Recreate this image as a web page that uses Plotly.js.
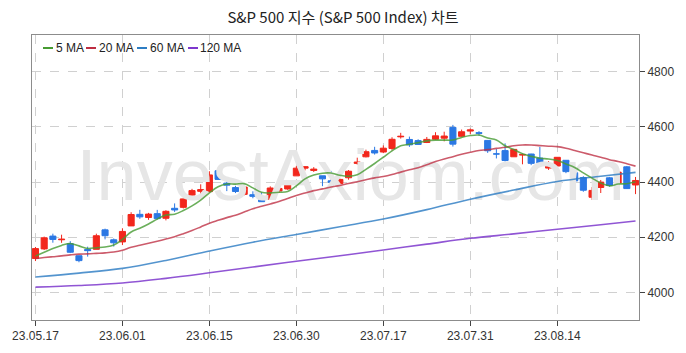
<!DOCTYPE html>
<html>
<head>
<meta charset="utf-8">
<script src="https://cdn.plot.ly/plotly-3.0.1.min.js"></script>
<style>html,body{margin:0;padding:0;background:#fff;}#chart{width:686px;height:353px;}</style>
</head>
<body>
<div id="chart"></div>
<script>
// ---- data ----
const dates = ['2023-05-17','2023-05-18','2023-05-19','2023-05-22','2023-05-23','2023-05-24','2023-05-25','2023-05-26','2023-05-30','2023-05-31',
'2023-06-01','2023-06-02','2023-06-05','2023-06-06','2023-06-07','2023-06-08','2023-06-09','2023-06-12','2023-06-13','2023-06-14',
'2023-06-15','2023-06-16','2023-06-20','2023-06-21','2023-06-22','2023-06-23','2023-06-26','2023-06-27','2023-06-28','2023-06-29',
'2023-06-30','2023-07-03','2023-07-05','2023-07-06','2023-07-07','2023-07-10','2023-07-11','2023-07-12','2023-07-13','2023-07-14',
'2023-07-17','2023-07-18','2023-07-19','2023-07-20','2023-07-21','2023-07-24','2023-07-25','2023-07-26','2023-07-27','2023-07-28',
'2023-07-31','2023-08-01','2023-08-02','2023-08-03','2023-08-04','2023-08-07','2023-08-08','2023-08-09','2023-08-10','2023-08-11',
'2023-08-14','2023-08-15','2023-08-16','2023-08-17','2023-08-18','2023-08-21','2023-08-22','2023-08-23','2023-08-24','2023-08-25'];
const openP = [4122.85,4157.68,4204.15,4190.78,4176.80,4132.96,4155.71,4156.16,4226.71,4190.74,
4183.03,4241.01,4282.99,4271.61,4285.47,4268.69,4304.88,4308.32,4352.61,4366.29,
4365.33,4440.95,4396.11,4380.01,4355.40,4354.17,4344.84,4337.36,4367.48,4374.94,
4422.44,4450.48,4442.04,4422.62,4404.54,4394.23,4415.55,4467.69,4491.50,4514.61,
4508.86,4521.78,4563.87,4554.38,4550.16,4543.39,4555.19,4558.96,4598.26,4565.75,
4584.82,4578.83,4550.93,4501.89,4513.96,4491.58,4498.03,4501.57,4487.16,4450.69,
4458.13,4478.87,4433.79,4416.32,4344.88,4380.28,4415.33,4396.44,4455.16,4389.38];
const highP = [4164.67,4202.20,4212.91,4209.22,4185.68,4132.96,4165.74,4212.87,4231.10,4195.44,
4232.43,4290.67,4299.28,4288.33,4299.19,4298.01,4322.62,4340.13,4375.37,4391.82,
4439.20,4448.47,4400.15,4386.22,4382.25,4366.55,4362.06,4384.42,4390.35,4398.39,
4458.48,4456.46,4454.06,4422.62,4440.39,4412.60,4443.64,4488.34,4517.38,4527.76,
4532.85,4562.30,4578.43,4564.74,4555.00,4563.41,4580.62,4582.47,4607.07,4590.16,
4594.22,4584.62,4550.93,4519.49,4540.34,4519.84,4503.31,4502.44,4527.37,4476.23,
4490.33,4478.87,4449.95,4421.17,4381.82,4407.55,4418.59,4443.18,4458.30,4418.46];
const lowP = [4113.62,4153.50,4180.20,4179.68,4142.54,4109.29,4129.73,4156.16,4192.18,4166.15,
4171.64,4241.01,4266.82,4263.09,4263.96,4261.07,4291.70,4304.37,4337.66,4337.85,
4362.60,4407.44,4367.19,4360.14,4351.82,4341.34,4328.08,4335.00,4360.22,4371.97,
4422.44,4442.29,4436.61,4385.05,4397.40,4389.92,4408.46,4463.23,4489.36,4499.56,
4504.90,4514.59,4557.48,4527.56,4535.79,4541.29,4552.42,4547.58,4528.56,4564.01,
4573.14,4567.53,4505.75,4485.54,4474.55,4491.15,4464.39,4461.33,4457.92,4443.98,
4453.44,4432.19,4403.55,4364.83,4335.31,4360.30,4382.77,4396.44,4375.55,4356.29];
const closeP = [4158.77,4198.05,4191.98,4192.63,4145.58,4115.24,4151.28,4205.45,4205.52,4179.83,
4221.02,4282.37,4273.79,4283.85,4267.52,4293.93,4298.86,4338.93,4369.01,4372.59,
4425.84,4409.59,4388.71,4365.69,4381.89,4348.33,4328.82,4378.41,4376.86,4396.44,
4450.38,4455.59,4446.82,4411.59,4398.95,4409.53,4439.26,4472.16,4510.04,4505.42,
4522.79,4554.98,4565.72,4534.87,4536.34,4554.64,4567.46,4566.75,4537.41,4582.23,
4588.96,4576.73,4513.39,4501.89,4478.03,4518.44,4499.38,4467.71,4468.83,4464.05,
4489.72,4437.86,4404.33,4370.36,4369.71,4399.77,4387.55,4436.01,4376.31,4405.71];
// closes of the 19 sessions before the first candle (for the 5/20 MA)
const priorCloses = [4129.79,4133.52,4137.04,4071.63,4055.99,4135.35,4169.48,4167.87,4119.58,4090.75,
4061.22,4136.25,4138.12,4119.17,4137.64,4130.62,4124.08,4136.28,4109.90];
// long moving averages
const maLongIdx = [0,5,10,15,20,25,30,35,40,45,50,55,60,65,69];
const ma60 = [4056,4070,4087,4116,4150,4182,4210,4238,4266,4300,4338,4371,4402,4421,4435];
const ma120 = [4019,4025,4034,4051,4071,4092,4113,4133,4154,4175,4196,4212,4229,4245,4259];
const maNames = ['5 MA','20 MA','60 MA','120 MA'];
const yTicks = [4000,4200,4400,4600,4800];
const tickEvery = 10;

// ---- derived ----
const idx = dates.map((d,i)=>i);
const allClose = priorCloses.concat(closeP);
function movingAvg(n){
  const off = priorCloses.length;
  return closeP.map((c,i)=>{
    let s=0; for(let k=0;k<n;k++) s+=allClose[off+i-k];
    return s/n;
  });
}
const ma5 = movingAvg(5), ma20 = movingAvg(20);
const tickvals = idx.filter(i=>i%tickEvery===0);
const ticktext = tickvals.map(i=>dates[i].slice(2).replace(/-/g,'.'));

const colors = ['rgba(70,155,50,0.8)','rgba(190,45,65,0.78)','rgba(45,125,195,0.82)','rgba(125,55,205,0.85)'];
const xr = [-0.4, dates.length-0.6];
const yr = [3900, 4933];

const traces = [
  {type:'scatter', mode:'text', x:[xr[0]+0.525*(xr[1]-xr[0])], y:[yr[0]+0.485*(yr[1]-yr[0])],
   text:['InvestAxiom.com'], textposition:'middle center',
   textfont:{family:'Liberation Sans, Arial, sans-serif', size:72, color:'#e6e6e6'},
   hoverinfo:'skip', showlegend:false, cliponaxis:false},
  {type:'scatter', mode:'lines', x:maLongIdx, y:ma120, name:maNames[3], line:{color:colors[3], width:1.6, shape:'spline'}, hoverinfo:'skip'},
  {type:'scatter', mode:'lines', x:maLongIdx, y:ma60, name:maNames[2], line:{color:colors[2], width:1.6, shape:'spline'}, hoverinfo:'skip'},
  {type:'scatter', mode:'lines', x:idx, y:ma20, name:maNames[1], line:{color:colors[1], width:1.6, shape:'spline'}, hoverinfo:'skip'},
  {type:'candlestick', x:idx, open:openP, high:highP, low:lowP, close:closeP, name:'S&P 500',
   increasing:{line:{color:'#f2271c', width:1}, fillcolor:'#f2271c'},
   decreasing:{line:{color:'#2b78e4', width:1}, fillcolor:'#2b78e4'},
   whiskerwidth:0, hoverinfo:'skip', showlegend:false},
  {type:'scatter', mode:'lines', x:idx, y:ma5, name:maNames[0], line:{color:colors[0], width:1.6, shape:'spline'}, hoverinfo:'skip'}
];

// compact legend (shapes + text) in the top-left corner
const legX = [43, 86, 137, 188];
const plotL = 32, plotW = 607, plotT = 35, plotH = 285;
const legY = 48;
const shapes = [], annotations = [];
maNames.forEach((nm,k)=>{
  const x0 = (legX[k]-plotL)/plotW, x1 = (legX[k]+10-plotL)/plotW, yy = (plotT+plotH-legY)/plotH;
  shapes.push({type:'line', xref:'paper', yref:'paper', x0:x0, x1:x1, y0:yy, y1:yy, line:{color:colors[k].replace(/[\d.]+\)$/,'1)'), width:2}});
  annotations.push({xref:'paper', yref:'paper', x:(legX[k]+10.5-plotL)/plotW, y:yy, xanchor:'left', yanchor:'middle',
    text:nm, showarrow:false, font:{family:'Liberation Sans, Arial, sans-serif', size:12, color:'#222'}});
});

const tickFont = {family:'Liberation Sans, Arial, sans-serif', size:12, color:'#333'};
const layout = {
  width:686, height:353,
  margin:{l:32, r:47, t:35, b:33},
  paper_bgcolor:'#fff', plot_bgcolor:'#fff',
  showlegend:false,
  boxgap:0.3, boxgroupgap:0,
  title:{text:'S&P 500 지수 (S&P 500 Index) 차트', x:0.5, xanchor:'center', y:0.95, yanchor:'middle',
    font:{family:'Noto Sans CJK KR, sans-serif', size:15, color:'#222'}},
  xaxis:{type:'linear', range:xr, tickvals:tickvals, ticktext:ticktext,
    showgrid:true, gridcolor:'#d0d0d0', griddash:'dash', gridwidth:1,
    showline:true, linecolor:'#8c8c8c', linewidth:1, mirror:true,
    ticks:'outside', ticklen:5, tickcolor:'#444', zeroline:false,
    tickfont:tickFont, rangeslider:{visible:false}, fixedrange:true},
  yaxis:{side:'right', range:yr, tickvals:yTicks,
    showgrid:true, gridcolor:'#d0d0d0', griddash:'dash', gridwidth:1,
    showline:true, linecolor:'#8c8c8c', linewidth:1, mirror:true,
    ticks:'outside', ticklen:5, tickcolor:'#444', zeroline:false,
    tickfont:tickFont, fixedrange:true},
  shapes:shapes, annotations:annotations
};
Plotly.newPlot('chart', traces, layout, {staticPlot:true, displayModeBar:false});
</script>
</body>
</html>
